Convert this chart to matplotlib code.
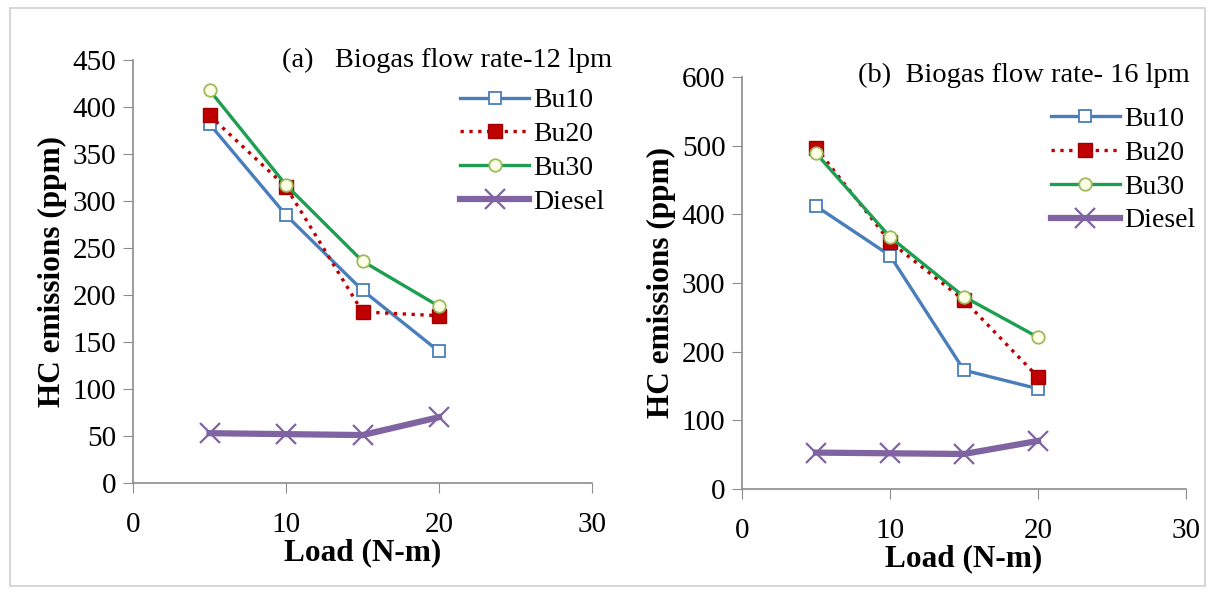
import matplotlib.pyplot as plt
from matplotlib.patches import Rectangle

plt.rcParams['font.family'] = ['Liberation Serif', 'DejaVu Serif']

# === data ===
load = [5, 10, 15, 20]

# (a) biogas flow rate 12 lpm
a_bu10 = [382, 285, 205, 140]
a_bu20 = [391, 315, 182, 178]
a_bu30 = [418, 317, 236, 188]
a_diesel = [53, 52, 51, 70]

# (b) biogas flow rate 16 lpm
b_bu10 = [412, 340, 173, 146]
b_bu20 = [497, 360, 275, 163]
b_bu30 = [489, 367, 280, 221]
b_diesel = [53, 52, 51, 70]

titles = ["(a)   Biogas flow rate-12 lpm", "(b)  Biogas flow rate- 16 lpm"]
ylims = [(0, 450, 50), (0, 600, 100)]
title_pos = [(1.044, 1.0), (1.009, 1.005)]
legend_pos = [(0.712, 0.934), (0.695, 0.928)]

fig = plt.figure(figsize=(12.16, 5.93), dpi=100)
fig.patches.append(Rectangle((0.008, 0.012), 0.983, 0.975, transform=fig.transFigure,
                             fill=False, edgecolor='#d0d0d0', lw=1.2))

# axes positions in figure fractions (left, bottom, width, height)
ax_a = fig.add_axes([133/1216, 1-483/593, (592-133)/1216, (483-60)/593])
ax_b = fig.add_axes([742/1216, 1-489/593, (1186-742)/1216, (489-77)/593])

for ax, data, title, (ymin, ymax, ystep), tp, lp in zip(
        [ax_a, ax_b],
        [(a_bu10, a_bu20, a_bu30, a_diesel), (b_bu10, b_bu20, b_bu30, b_diesel)],
        titles, ylims, title_pos, legend_pos):
    bu10, bu20, bu30, diesel = data
    ax.plot(load, bu10, '-', color='#4a7ebb', lw=2.4, marker='s', ms=9,
            mfc='white', mec='#4a7ebb', mew=1.3, label='Bu10')
    ax.plot(load, bu20, ':', color='#c00000', lw=2.4, marker='s', ms=10,
            mfc='#c00000', mec='#a00000', label='Bu20')
    ax.plot(load, bu30, '-', color='#1e9e50', lw=2.4, marker='o', ms=9,
            mfc='#ffffe8', mec='#9bbb59', mew=1.3, label='Bu30')
    ax.plot(load, diesel, '-', color='#8064a2', lw=4.5, marker='x', ms=14,
            mew=1.6, label='Diesel')

    ax.set_xlim(0, 30)
    ax.set_ylim(ymin, ymax)
    ax.set_xticks([0, 10, 20, 30])
    ax.set_yticks(range(ymin, ymax + 1, ystep))
    for s in ['top', 'right']:
        ax.spines[s].set_visible(False)
    for s in ['left', 'bottom']:
        ax.spines[s].set_color('#8c8c8c')
        ax.spines[s].set_linewidth(1.2)
    ax.tick_params(axis='both', direction='out', color='#8c8c8c', length=7,
                   labelsize=21, pad=5)
    ax.tick_params(axis='x', pad=14)
    ax.set_xlabel("Load (N-m)", fontsize=22.5, fontweight='bold', labelpad=0)
    ax.set_ylabel("HC emissions (ppm)", fontsize=22.5, fontweight='bold', labelpad=4)
    ax.text(tp[0], tp[1], title, transform=ax.transAxes, ha='right', va='center',
            fontsize=20.5)
    ax.legend(loc='upper left', bbox_to_anchor=lp, frameon=False,
              fontsize=20, handlelength=2.5, handletextpad=0.15, labelspacing=0.3,
              borderpad=0, borderaxespad=0)

fig.savefig('out.png', dpi=100)
